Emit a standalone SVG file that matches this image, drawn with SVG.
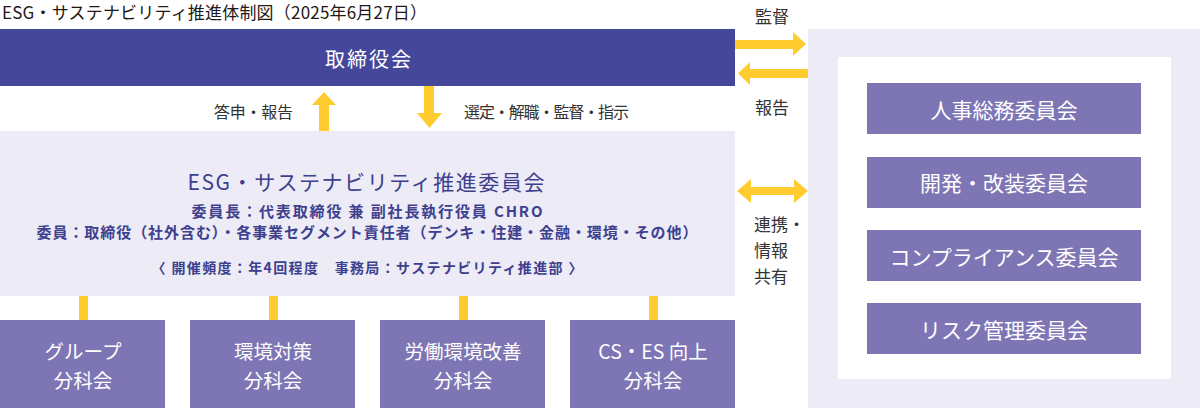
<svg xmlns="http://www.w3.org/2000/svg" width="1200" height="408" viewBox="0 0 1200 408">
<style>
text{font-family:"Noto Sans CJK JP","Noto Sans",sans-serif;dominant-baseline:central}
.title{font-size:17px;fill:#231815}
.lbl{font-size:16px;fill:#333333}
.lbl2{font-size:17px;fill:#333333}
.wt{fill:#ffffff;text-anchor:middle}
.bt{fill:#ffffff;text-anchor:middle;font-size:19.5px}
.mid{fill:#3e3f8e;text-anchor:middle}
.pale{fill:#ecebf6}
.box{fill:#7e76b4}
.arr{fill:#ffcb2f}
</style>
<rect width="1200" height="408" fill="#ffffff"/>
<text class="title" x="2" y="11" textLength="425" lengthAdjust="spacing">ESG・サステナビリティ推進体制図（2025年6月27日）</text>

<g id="board">
<rect x="0" y="29" width="735" height="57" fill="#45479a"/>
<text class="wt" x="368" y="58" font-size="20" textLength="86" lengthAdjust="spacing">取締役会</text>
</g>

<g id="esg-committee">
<rect class="pale" x="0" y="131" width="735" height="165"/>
<text class="mid" x="366" y="181" font-size="21" textLength="357" lengthAdjust="spacing">ESG・サステナビリティ推進委員会</text>
<text class="mid" x="367" y="210" font-size="15" font-weight="bold" textLength="351" lengthAdjust="spacing">委員長：代表取締役 兼 副社長執行役員 CHRO</text>
<text class="mid" x="367" y="231" font-size="15" font-weight="bold" textLength="661" lengthAdjust="spacing">委員：取締役（社外含む）・各事業セグメント責任者（デンキ・住建・金融・環境・その他）</text>
<text class="mid" x="367" y="267" font-size="14" font-weight="bold" textLength="431" lengthAdjust="spacing">〈 開催頻度：年4回程度　事務局：サステナビリティ推進部 〉</text>
</g>

<g id="committees-panel">
<rect class="pale" x="808" y="29" width="392" height="379"/>
<rect x="838" y="57" width="333" height="322" fill="#ffffff"/>
</g>
<g id="hr-committee">
<rect class="box" x="867" y="83" width="274" height="51"/>
<text class="wt" x="1004" y="108.5" font-size="21">人事総務委員会</text>
</g>
<g id="dev-committee">
<rect class="box" x="867" y="157" width="274" height="51"/>
<text class="wt" x="1004" y="182" font-size="21">開発・改装委員会</text>
</g>
<g id="compliance-committee">
<rect class="box" x="867" y="230" width="274" height="51"/>
<text class="wt" x="1004" y="255.5" font-size="21">コンプライアンス委員会</text>
</g>
<g id="risk-committee">
<rect class="box" x="867" y="303" width="274" height="51"/>
<text class="wt" x="1004" y="328.5" font-size="21">リスク管理委員会</text>
</g>

<g id="group-sub">
<rect class="box" x="0" y="320" width="165" height="88"/>
<text class="bt"><tspan x="83" y="350">グループ</tspan><tspan x="83" y="378.5">分科会</tspan></text>
</g>
<g id="env-sub">
<rect class="box" x="190" y="320" width="165" height="88"/>
<text class="bt"><tspan x="273" y="350">環境対策</tspan><tspan x="273" y="378.5">分科会</tspan></text>
</g>
<g id="labor-sub">
<rect class="box" x="380" y="320" width="165" height="88"/>
<text class="bt"><tspan x="463" y="350">労働環境改善</tspan><tspan x="463" y="378.5">分科会</tspan></text>
</g>
<g id="cses-sub">
<rect class="box" x="570" y="320" width="165" height="88"/>
<text class="bt"><tspan x="653" y="350">CS・ES 向上</tspan><tspan x="653" y="378.5">分科会</tspan></text>
</g>

<g id="connectors">
<polygon class="arr" points="319,131 329,131 329,105 336,105 324,92 312,105 319,105"/>
<polygon class="arr" points="424,86 434,86 434,113 442,113 429.5,128 417,113 424,113"/>
<polygon class="arr" points="735,40 793,40 793,32 806,44 793,56 793,49 735,49"/>
<polygon class="arr" points="808,69 750,69 750,62 738,73.5 750,85 750,78 808,78"/>
<polygon class="arr" points="737,191 751,179 751,187 794,187 794,179 808,191 794,203 794,195 751,195 751,203"/>
<rect class="arr" x="79" y="296" width="9" height="24"/>
<rect class="arr" x="269" y="296" width="9" height="24"/>
<rect class="arr" x="459" y="296" width="9" height="24"/>
<rect class="arr" x="649" y="296" width="9" height="24"/>
<text class="lbl" x="214" y="111" textLength="79" lengthAdjust="spacing">答申・報告</text>
<text class="lbl" x="464" y="111" textLength="165" lengthAdjust="spacing">選定・解職・監督・指示</text>
<text class="lbl2" x="755" y="15">監督</text>
<text class="lbl2" x="755" y="106">報告</text>
<text class="lbl2" x="754" y="223">連携・</text>
<text class="lbl2" x="754" y="249">情報</text>
<text class="lbl2" x="754" y="275">共有</text>
</g>
</svg>
